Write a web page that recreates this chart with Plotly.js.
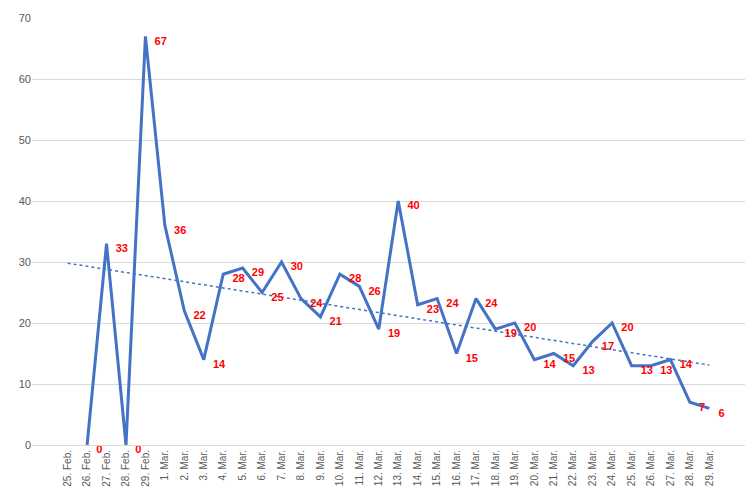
<!DOCTYPE html>
<html>
<head>
<meta charset="utf-8">
<script src="https://cdn.plot.ly/plotly-3.0.1.min.js"></script>
<style>body{margin:0;background:#fff}#chart{width:753px;height:500px}</style>
</head>
<body>
<div id="chart"></div>
<script>
const days = ['25. Feb.', '26. Feb.', '27. Feb.', '28. Feb.', '29. Feb.',
  '1. Mar.', '2. Mar.', '3. Mar.', '4. Mar.', '5. Mar.', '6. Mar.', '7. Mar.', '8. Mar.',
  '9. Mar.', '10. Mar.', '11. Mar.', '12. Mar.', '13. Mar.', '14. Mar.', '15. Mar.',
  '16. Mar.', '17. Mar.', '18. Mar.', '19. Mar.', '20. Mar.', '21. Mar.', '22. Mar.',
  '23. Mar.', '24. Mar.', '25. Mar.', '26. Mar.', '27. Mar.', '28. Mar.', '29. Mar.'];

// 25. Feb. has no value
const counts = [null, 0, 33, 0, 67, 36, 22, 14, 28, 29, 25, 30, 24, 21, 28, 26, 19, 40,
  23, 24, 15, 24, 19, 20, 14, 15, 13, 17, 20, 13, 13, 14, 7, 6];

// dotted trend line, read at both ends
const trendDays = ['25. Feb.', '29. Mar.'];
const trendValues = [29.8, 13.1];

const line = {
  type: 'scatter', mode: 'lines+text', x: days, y: counts,
  line: {color: '#4472C4', width: 3}, connectgaps: false,
  text: counts.map(v => v === null ? '' : '   <b>' + v + '</b>'),
  textposition: 'bottom right',
  textfont: {color: '#FF0000', size: 11, family: 'Liberation Sans'},
  cliponaxis: false, hoverinfo: 'x+y'
};
const trend = {
  type: 'scatter', mode: 'lines', x: trendDays, y: trendValues,
  line: {color: '#4472C4', width: 1.5, dash: 'dot'}, hoverinfo: 'skip'
};

const layout = {
  width: 753, height: 500,
  margin: {l: 32, r: 8, t: 18, b: 55},
  showlegend: false,
  paper_bgcolor: '#fff', plot_bgcolor: '#fff',
  font: {family: 'Liberation Sans', size: 11, color: '#595959'},
  xaxis: {type: 'category', categoryorder: 'array', categoryarray: days,
    tickangle: -90, showgrid: false, showline: true, linecolor: '#D9D9D9',
    ticks: '', tickfont: {size: 10}, automargin: false},
  yaxis: {range: [0, 70], dtick: 10, gridcolor: '#D9D9D9', zeroline: false,
    showline: false, ticks: '', tickfont: {size: 11}, automargin: false}
};

Plotly.newPlot('chart', [trend, line], layout, {displayModeBar: false, staticPlot: true});
</script>
</body>
</html>
